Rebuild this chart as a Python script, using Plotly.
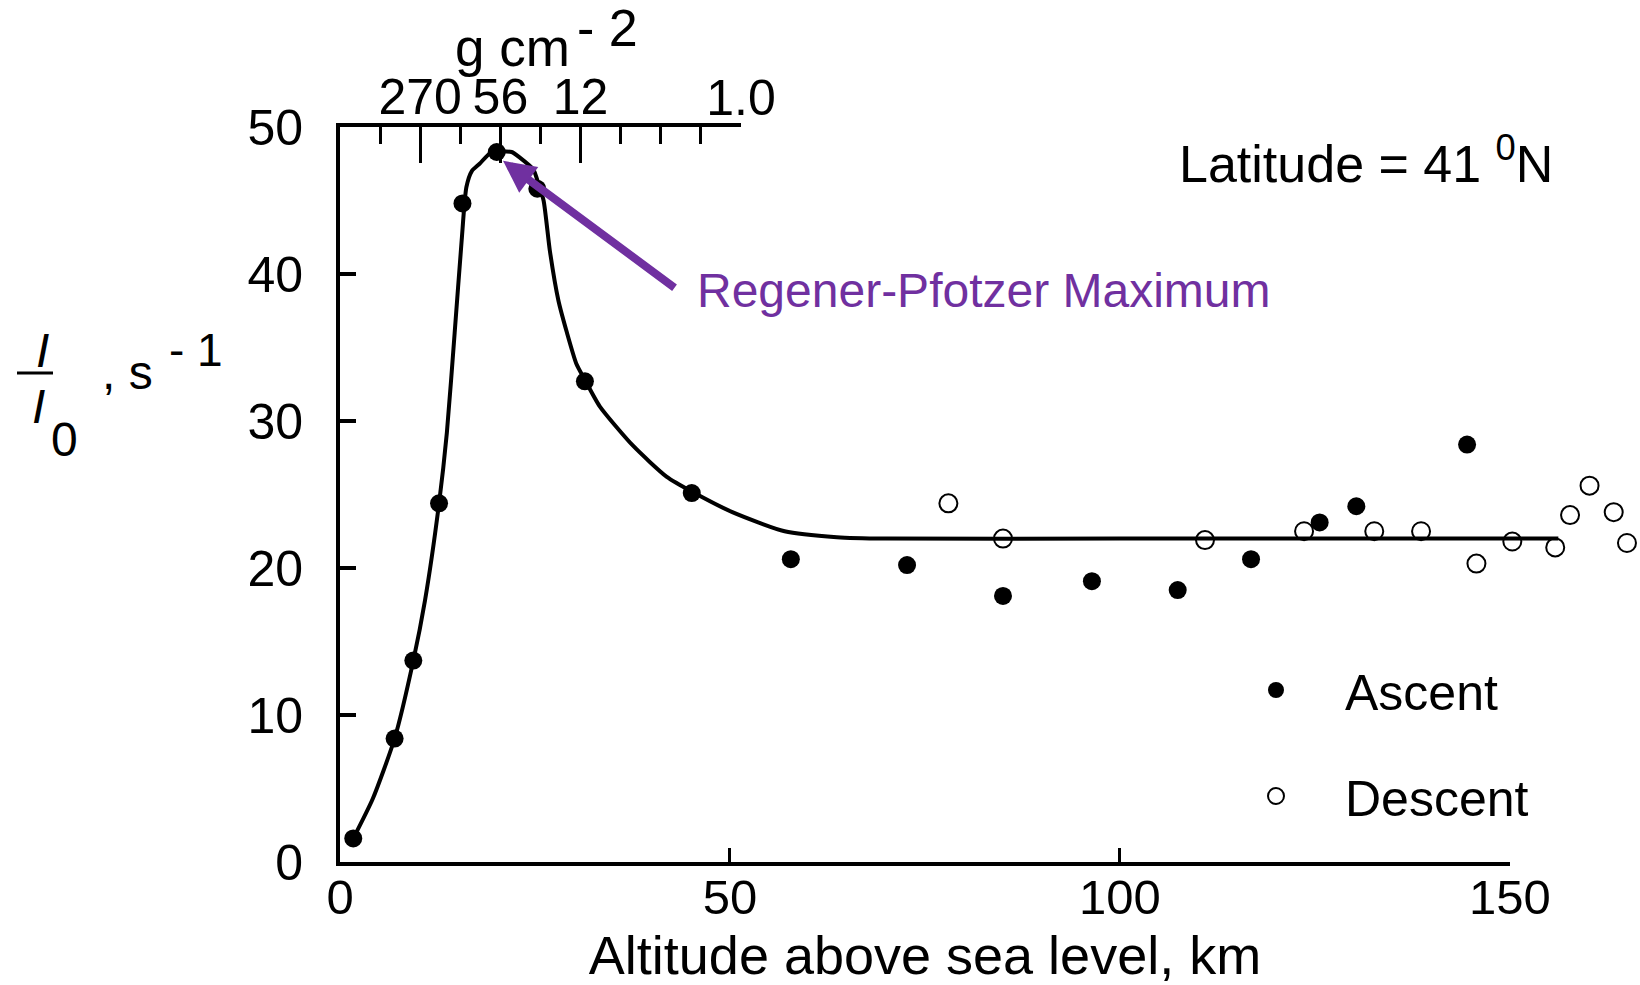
import plotly.graph_objects as go

# ---------------- data ----------------
ascent_x = [1.7, 7.0, 9.4, 12.7, 15.7, 20.1, 25.3, 31.4, 45.1, 57.8, 72.7, 85.0,
            96.4, 107.4, 116.8, 125.6, 130.3, 144.5]
ascent_y = [1.6, 8.4, 13.7, 24.4, 44.8, 48.3, 45.8, 32.7, 25.1, 20.6, 20.2, 18.1,
            19.1, 18.5, 20.6, 23.1, 24.2, 28.4]

descent_x = [78.0, 85.0, 110.9, 123.6, 132.6, 138.6, 145.7, 150.3, 155.8, 157.7,
             160.2, 163.3, 165.0]
descent_y = [24.4, 22.0, 21.9, 22.5, 22.5, 22.5, 20.3, 21.8, 21.4, 23.6,
             25.6, 23.8, 21.7]

curve_x = [1.7, 4.2, 7.0, 9.4, 10.9, 12.7, 13.7, 14.7, 15.6, 16.2, 16.9, 17.9, 19.2,
           20.1, 22.0, 23.1, 24.8, 25.4, 26.1, 26.9, 28.0, 29.1, 30.3, 31.4, 33.3,
           37.6, 41.9, 45.1, 50.3, 57.0, 63.7, 70.0, 100.0, 130.0, 156.2]
curve_y = [1.6, 4.3, 8.4, 13.7, 17.8, 24.4, 29.2, 36.0, 42.3, 45.9, 47.0, 47.5, 48.2,
           48.3, 48.3, 47.9, 47.1, 46.2, 45.0, 41.6, 38.2, 36.0, 33.9, 32.8, 31.0,
           28.3, 26.2, 25.2, 23.8, 22.5, 22.1, 22.0, 22.0, 22.0, 22.0]

bottom_ticks = [0, 50, 100, 150]
y_ticks = [0, 10, 20, 30, 40, 50]
depth_major_pos = [2, 4, 6]
depth_major_text = ["270", "56", "12"]
depth_minor_pos = [1, 3, 5, 7, 8, 9, 10]
depth_end_pos = [10]
depth_end_text = ["1.0"]

# ---------------- geometry ----------------
W_FIG, H_FIG = 1640, 985
L, R, T, B = 340, 0, 127, 123
PW = W_FIG - L - R
PH = H_FIG - T - B
X_MAX = 166.67          # data range shown across the plot area
BOTTOM_END = 150        # bottom axis line ends here
TOP_END_PX = 741        # top (depth) axis line ends here (px)

FONT = "Liberation Sans, Arial, Helvetica, sans-serif"
PURPLE = "#7030A0"


def px(x):
    return (x - L) / PW


def py(y):
    return (H_FIG - B - y) / PH


fig = go.Figure()

fig.add_trace(go.Scatter(x=curve_x, y=curve_y, mode="lines",
                         line=dict(color="black", width=4, shape="spline", smoothing=0.6),
                         showlegend=False, hoverinfo="skip"))
fig.add_trace(go.Scatter(x=ascent_x, y=ascent_y, mode="markers", name="Ascent",
                         legendgroup="a",
                         marker=dict(symbol="circle", size=18, color="black"),
                         cliponaxis=False))
fig.add_trace(go.Scatter(x=descent_x, y=descent_y, mode="markers", name="Descent",
                         legendgroup="d",
                         marker=dict(symbol="circle-open", size=18, color="black",
                                     line=dict(width=2, color="black")),
                         cliponaxis=False))
# empty traces so the extra axes are rendered
for ax in ["x2", "x3", "x4"]:
    fig.add_trace(go.Scatter(x=[], y=[], xaxis=ax, yaxis="y", showlegend=False,
                             hoverinfo="skip"))

fig.update_layout(
    width=W_FIG, height=H_FIG, autosize=False,
    margin=dict(l=L, r=R, t=T, b=B, pad=0, autoexpand=False),
    paper_bgcolor="white", plot_bgcolor="rgba(0,0,0,0)",
    font=dict(family=FONT, color="black", size=50),
    xaxis=dict(range=[0, X_MAX], domain=[0, 1], visible=False, fixedrange=True,
               automargin=False),
    yaxis=dict(range=[0, 50], domain=[0, 1], anchor="x", automargin=False,
               showline=True, linewidth=4, linecolor="black", mirror=False,
               ticks="inside", ticklen=16, tickwidth=4, tickcolor="black",
               tickvals=y_ticks, tickfont=dict(size=50),
               ticklabelstandoff=23, showgrid=False, zeroline=False),
    xaxis3=dict(range=[0, BOTTOM_END], domain=[0, BOTTOM_END / X_MAX], anchor="y",
                automargin=False,
                side="bottom", showline=True, linewidth=4, linecolor="black",
                ticks="inside", ticklen=14, tickwidth=3, tickcolor="black",
                tickvals=bottom_ticks, tickfont=dict(size=49),
                ticklabelstandoff=-11, showgrid=False, zeroline=False,
                title=dict(text="Altitude above sea level, km", font=dict(size=54),
                           standoff=34)),
    xaxis2=dict(range=[0, 10], domain=[0, px(TOP_END_PX)], anchor="y", side="top",
                automargin=False,
                showline=True, linewidth=4, linecolor="black",
                ticks="inside", ticklen=36, tickwidth=3, tickcolor="black",
                tickmode="array", tickvals=depth_major_pos, ticktext=depth_major_text,
                tickfont=dict(size=50), ticklabelstandoff=-11,
                minor=dict(tickmode="array", tickvals=depth_minor_pos, ticks="inside",
                           ticklen=17, tickwidth=3, tickcolor="black"),
                showgrid=False, zeroline=False),
    xaxis4=dict(range=[0, 10], domain=[0, px(TOP_END_PX)], anchor="y", side="top",
                automargin=False,
                overlaying="x2", showline=False, ticks="",
                tickmode="array", tickvals=depth_end_pos, ticktext=depth_end_text,
                tickfont=dict(size=50), ticklabelstandoff=1,
                showgrid=False, zeroline=False),
    legend=dict(x=px(1207), y=py(651), xanchor="left", yanchor="top",
                font=dict(size=50), itemwidth=128, tracegroupgap=38,
                bgcolor="rgba(0,0,0,0)", borderwidth=0),
    showlegend=True,
)

annotations = [
    # top axis title  g cm^-2
    dict(text="g cm", x=px(512), y=py(47), xref="paper", yref="paper",
         xanchor="center", yanchor="middle", showarrow=False, font=dict(size=53)),
    dict(text="- 2", x=px(607), y=py(28), xref="paper", yref="paper",
         xanchor="center", yanchor="middle", showarrow=False, font=dict(size=52)),
    # latitude note
    dict(text="Latitude = 41 <sup>0</sup>N", x=px(1177), y=py(160), xref="paper",
         yref="paper", xanchor="left", yanchor="middle", showarrow=False,
         font=dict(size=52)),
    # Regener-Pfotzer label
    dict(text="Regener-Pfotzer Maximum", x=px(695), y=py(290), xref="paper",
         yref="paper", xanchor="left", yanchor="middle", showarrow=False,
         font=dict(size=48, color=PURPLE)),
    # arrow pointing to maximum
    dict(text="", x=20.9, y=47.7, xref="x", yref="y", ax=173, ay=128,
         showarrow=True, arrowhead=2, arrowsize=0.8, arrowwidth=8,
         arrowcolor=PURPLE, standoff=0, startstandoff=0),
    # y axis label  I / I0 , s^-1
    dict(text="<i>I</i>", x=px(42), y=py(350), xref="paper", yref="paper",
         xanchor="center", yanchor="middle", showarrow=False, font=dict(size=48)),
    dict(text="<i>I</i>", x=px(38), y=py(406), xref="paper", yref="paper",
         xanchor="center", yanchor="middle", showarrow=False, font=dict(size=48)),
    dict(text="0", x=px(64), y=py(439), xref="paper", yref="paper",
         xanchor="center", yanchor="middle", showarrow=False, font=dict(size=48)),
    dict(text=", s", x=px(100), y=py(372), xref="paper", yref="paper",
         xanchor="left", yanchor="middle", showarrow=False, font=dict(size=48)),
    dict(text="- 1", x=px(196), y=py(350), xref="paper", yref="paper",
         xanchor="center", yanchor="middle", showarrow=False, font=dict(size=46)),
]
fig.update_layout(annotations=annotations)

fig.add_shape(type="line", xref="paper", yref="paper",
              x0=px(17), x1=px(53), y0=py(373), y1=py(373),
              line=dict(color="black", width=3))

fig.write_html("out.html")
